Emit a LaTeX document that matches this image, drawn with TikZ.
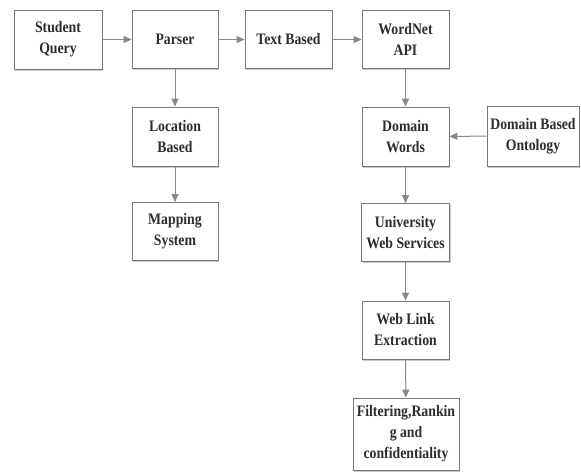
\documentclass[tikz,border=0pt]{standalone}
\usepackage{fontspec}
\setmainfont{Liberation Serif}[FakeStretch=0.86]
\usetikzlibrary{arrows.meta,shadows}
\definecolor{boxline}{RGB}{120,120,120}
\definecolor{txt}{RGB}{45,45,45}
\definecolor{arr}{RGB}{135,135,135}
\begin{document}
\begin{tikzpicture}[x=1pt,y=-1pt,
  box/.style={draw=boxline, line width=0.9pt, fill=white, align=center,
    font=\fontsize{16}{21}\selectfont\bfseries, text=txt, inner sep=0pt,
    drop shadow={shadow xshift=1.2pt, shadow yshift=-1.6pt, fill=black!35, opacity=0.6}},
  link/.style={draw=arr, line width=1pt, -{Triangle[length=8pt,width=7pt]}}]
\useasboundingbox (0,0) rectangle (581,472);
\node[box, minimum width=88pt, minimum height=59pt] (sq) at (58,39.5) {Student\\Query};
\node[box, minimum width=86pt, minimum height=58pt] (pa) at (175,39.5) {Parser};
\node[box, minimum width=87pt, minimum height=58pt] (tb) at (288.5,39.5) {Text Based};
\node[box, minimum width=87pt, minimum height=58pt] (wn) at (405.5,39.5) {WordNet\\API};
\node[box, minimum width=87pt, minimum height=59pt] (dw) at (405.5,136.5) {Domain\\Words};
\node[box, minimum width=92pt, minimum height=60pt] (on) at (533,136) {Domain Based\\Ontology};
\node[box, minimum width=86pt, minimum height=59pt] (lb) at (175,136.5) {Location\\Based};
\node[box, minimum width=86pt, minimum height=58pt] (ms) at (175,231.5) {Mapping\\System};
\node[box, minimum width=88pt, minimum height=58pt] (uw) at (405.5,232.5) {University\\Web Services};
\node[box, minimum width=87pt, minimum height=58pt] (wl) at (405.5,330) {Web Link\\Extraction};
\node[box, minimum width=106pt, minimum height=72pt] (fr) at (406,434) {Filtering,Rankin\\g and\\confidentiality};
\draw[link] (sq) -- (pa);
\draw[link] (pa) -- (tb);
\draw[link] (tb) -- (wn);
\draw[link] (pa) -- (lb);
\draw[link] (lb) -- (ms);
\draw[link] (wn) -- (dw);
\draw[link] (on) -- (dw);
\draw[link] (dw) -- (uw);
\draw[link] (uw) -- (wl);
\draw[link] (wl) -- (fr);
\end{tikzpicture}
\end{document}
